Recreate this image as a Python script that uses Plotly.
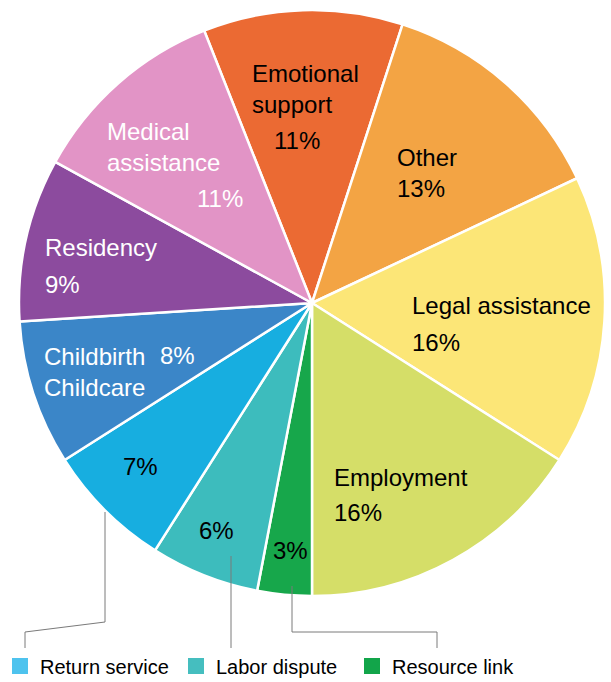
import plotly.graph_objects as go

# ---------------- data ----------------
categories = ["Emotional support", "Other", "Legal assistance", "Employment",
              "Resource link", "Labor dispute", "Return service",
              "Childbirth Childcare", "Residency", "Medical assistance"]
shares = [11, 13, 16, 16, 3, 6, 7, 8, 9, 11]
colors = ["#EB6A33", "#F3A444", "#FCE677", "#D5DE68", "#17A74B",
          "#3DBCBD", "#17AEE0", "#3B86C8", "#8C4B9E", "#E294C6"]
legend_items = ["Return service", "Labor dispute", "Resource link"]
legend_colors = ["#4EC3EE", "#45BEBF", "#12A54A"]

# ---------------- layout helpers ----------------
W, H = 611, 682
cx, cy, R = 312, 303, 293

def fx(x):
    return x / W

def fy(y):
    return 1 - y / H

fig = go.Figure()
fig.add_trace(go.Pie(
    labels=categories, values=shares, sort=False, direction="clockwise",
    rotation=-21.6, textinfo="none", hoverinfo="label+percent",
    marker=dict(colors=colors, line=dict(color="white", width=2.5)),
    domain=dict(x=[fx(cx - R), fx(cx + R)], y=[fy(cy + R), fy(cy - R)]),
    showlegend=False,
))

for name, col in zip(legend_items, legend_colors):
    fig.add_trace(go.Scatter(
        x=[None], y=[None], mode="markers", name=name,
        marker=dict(symbol="square", size=16, color=col),
    ))

# label placement: (show name, line-wrapped, name pos, pct pos, text colour)
label_style = [
    (True, True, (250, 89), (272, 140), "black"),
    (True, False, (395, 157), (395, 189), "black"),
    (True, False, (410, 305), (410, 342), "black"),
    (True, False, (332, 477), (332, 512), "black"),
    (False, False, None, (271, 550), "black"),
    (False, False, None, (197, 530), "black"),
    (False, False, None, (121, 467), "black"),
    (True, True, (42, 372), (158, 355), "white"),
    (True, False, (43, 247), (43, 284), "white"),
    (True, True, (105, 147), (195, 199), "white"),
]

font_fam = "Liberation Sans, Arial, sans-serif"
annotations = []
for cat, val, (show, wrap, npos, ppos, tcol) in zip(categories, shares, label_style):
    if show:
        txt = cat.replace(" ", "<br>") if wrap else cat
        annotations.append(dict(
            x=fx(npos[0]), y=fy(npos[1]), xref="paper", yref="paper",
            text=txt, showarrow=False, xanchor="left", yanchor="middle",
            align="left", font=dict(size=24, color=tcol, family=font_fam)))
    annotations.append(dict(
        x=fx(ppos[0]), y=fy(ppos[1]), xref="paper", yref="paper",
        text=f"{val}%", showarrow=False, xanchor="left", yanchor="middle",
        align="left", font=dict(size=24, color=tcol, family=font_fam)))

# leader lines from small slices to legend entries
leaders = [
    [(105, 512), (105, 622), (25, 632), (25, 648)],
    [(231, 556), (231, 648)],
    [(292, 586), (292, 632), (437, 632), (437, 648)],
]
shapes = []
for pts in leaders:
    path = "M " + " L ".join(f"{fx(x)},{fy(y)}" for x, y in pts)
    shapes.append(dict(type="path", xref="paper", yref="paper", path=path,
                       line=dict(color="#7a7a7a", width=1)))

fig.update_layout(
    width=W, height=H,
    margin=dict(l=0, r=0, t=0, b=0, autoexpand=False),
    paper_bgcolor="white", plot_bgcolor="white",
    xaxis=dict(visible=False), yaxis=dict(visible=False),
    annotations=annotations, shapes=shapes,
    showlegend=True,
    legend=dict(orientation="h", x=0, xanchor="left", y=fy(666), yanchor="middle",
                font=dict(size=20, color="black", family=font_fam),
                entrywidth=131, entrywidthmode="pixels",
                bgcolor="rgba(0,0,0,0)"),
)

fig.write_html("out.html", config={"displayModeBar": False},
               post_script="document.body.style.margin='0';document.body.style.padding='0';")
